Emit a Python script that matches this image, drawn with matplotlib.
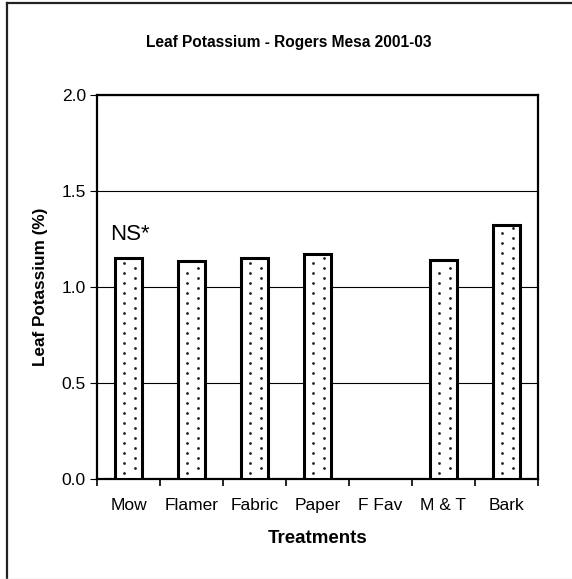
import matplotlib
matplotlib.use("Agg")
import matplotlib.pyplot as plt
import numpy as np
from matplotlib.lines import Line2D

plt.rcParams['font.family'] = ['Liberation Sans', 'DejaVu Sans']

treatments = ['Mow', 'Flamer', 'Fabric', 'Paper', 'F Fav', 'M & T', 'Bark']
potassium = [1.15, 1.135, 1.15, 1.17, np.nan, 1.14, 1.325]
yticks = [0.0, 0.5, 1.0, 1.5, 2.0]

fig = plt.figure(figsize=(5.72, 5.79), dpi=100)
ax = fig.add_axes([97 / 572, 1 - 479 / 579, 441 / 572, 384 / 579])

x = np.arange(len(treatments))
bw = 0.42
ax.bar(x, potassium, width=bw, color='white', edgecolor='black',
       linewidth=2.2, zorder=3)

# dotted fill pattern inside the bars (two staggered columns of dots)
px_x = 7 / 441.0
px_y = 2.0 / 384
for xi, v in zip(x, potassium):
    if np.isnan(v):
        continue
    ys1 = np.arange(6 * px_y, v - 3 * px_y, 10 * px_y)
    ys2 = ys1 + 5 * px_y
    ys2 = ys2[ys2 < v - 3 * px_y]
    ax.scatter(np.full(len(ys1), xi - 4.5 * px_x), ys1, s=4, color='#222222',
               linewidths=0, zorder=4)
    ax.scatter(np.full(len(ys2), xi + 6 * px_x), ys2, s=4, color='#222222',
               linewidths=0, zorder=4)

ax.set_xlim(-0.5, len(treatments) - 0.5)
ax.set_ylim(0, 2.0)
ax.set_yticks(yticks)
ax.set_yticklabels(['%.1f' % v for v in yticks], fontsize=12.5)
ax.yaxis.grid(True, color='black', linewidth=0.8)
ax.set_axisbelow(True)

ax.set_xticks(x)
ax.set_xticklabels(treatments, fontsize=12.5)
ax.tick_params(axis='x', which='major', length=0, pad=14)
ax.set_xticks(np.arange(len(treatments) + 1) - 0.5, minor=True)
ax.tick_params(axis='x', which='minor', length=5, width=1.2, direction='out')
ax.tick_params(axis='y', length=5, width=0.8, direction='out', pad=3)

for s in ax.spines.values():
    s.set_linewidth(1.6)

ax.set_xlabel('Treatments', fontsize=13.5, fontweight='bold', labelpad=12)
ax.set_ylabel('Leaf Potassium (%)', fontsize=12.3, fontweight='bold', labelpad=10)

ax.text(-0.29, 1.22, 'NS*', fontsize=16, ha='left', va='bottom')

fig.text(0.505, 1 - 42 / 579, 'Leaf Potassium - Rogers Mesa 2001-03',
         fontsize=11.2, fontweight='bold', ha='center', va='center')

# outer chart border
fig.add_artist(Line2D([7 / 572, 7 / 572], [0, 1 - 3 / 579], color='#222222', linewidth=1.6))
fig.add_artist(Line2D([7 / 572, 1], [1 - 3 / 579, 1 - 3 / 579], color='#222222', linewidth=1.6))
fig.add_artist(Line2D([0, 1], [0.5 / 579, 0.5 / 579], color='#dddddd', linewidth=1))

fig.savefig('out.png', dpi=100)
